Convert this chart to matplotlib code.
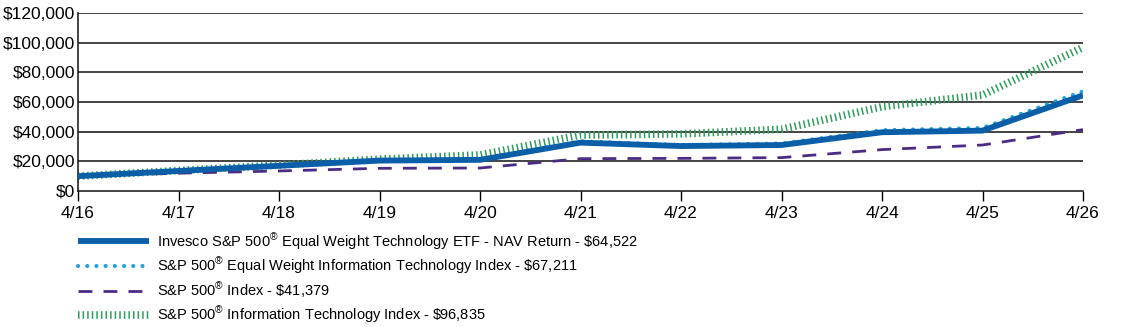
import matplotlib
matplotlib.use("Agg")
import matplotlib.pyplot as plt

# ---------------------------------------------------------------- data
periods = ["4/16", "4/17", "4/18", "4/19", "4/20", "4/21", "4/22", "4/23", "4/24", "4/25", "4/26"]
etf_nav = [10000, 13500, 17000, 20500, 21000, 32600, 30300, 31000, 39600, 40700, 64522]
ew_it_index = [10000, 13700, 17300, 21000, 21500, 33500, 31000, 32000, 41000, 42500, 67211]
sp500 = [10000, 12000, 13500, 15300, 15500, 21800, 22000, 22500, 27900, 31000, 41379]
it_index = [10000, 13800, 17500, 21500, 24300, 37700, 38500, 41600, 56800, 64700, 96835]

labels = [
    r"Invesco S&P 500$^{\circledR}$ Equal Weight Technology ETF - NAV Return - \$64,522",
    r"S&P 500$^{\circledR}$ Equal Weight Information Technology Index - \$67,211",
    r"S&P 500$^{\circledR}$ Index - \$41,379",
    r"S&P 500$^{\circledR}$ Information Technology Index - \$96,835",
]
y_ticks = [0, 20000, 40000, 60000, 80000, 100000, 120000]

# ---------------------------------------------------------------- chart
plt.rcParams["font.family"] = ["Liberation Sans", "DejaVu Sans"]
plt.rcParams["mathtext.fontset"] = "custom"
plt.rcParams["mathtext.rm"] = "Liberation Sans"
plt.rcParams["mathtext.it"] = "Liberation Sans"

fig = plt.figure(figsize=(11.23, 3.27), dpi=100)
ax = fig.add_axes([78 / 1123, 136 / 327, 1005 / 1123, 178 / 327])
x = list(range(len(periods)))

for v in y_ticks[1:]:
    ax.axhline(v, color="#111111", lw=1.1, zorder=1)

l_it, = ax.plot(x, it_index, color="#2E9E5B", lw=5.5, ls=(0, (0.2, 0.4)),
                dash_capstyle="butt", zorder=2)
l_sp, = ax.plot(x, sp500, color="#4B2C84", lw=2, ls=(0, (5, 4)), zorder=3)
l_etf, = ax.plot(x, etf_nav, color="#0B5EA8", lw=4.2, solid_capstyle="butt", zorder=4)
l_ew, = ax.plot(x, ew_it_index, color="#1FA3DC", lw=3, ls=(0, (0.01, 2.2)),
                dash_capstyle="round", zorder=3.5)

ax.set_xlim(0, len(periods) - 1)
ax.set_ylim(0, 120000)
ax.set_xticks(x)
ax.set_xticklabels(periods)
ax.set_yticks(y_ticks)
ax.set_yticklabels([f"${v:,.0f}" for v in y_ticks])
ax.tick_params(axis="x", length=7, width=1, direction="out", labelsize=12.5, pad=4)
ax.tick_params(axis="y", length=0, labelsize=12.5, pad=2)
for s in ("top", "right"):
    ax.spines[s].set_visible(False)
for s in ("left", "bottom"):
    ax.spines[s].set_color("#111111")
    ax.spines[s].set_linewidth(1.1)

leg = fig.legend([l_etf, l_ew, l_sp, l_it], labels, loc="upper left",
                 bbox_to_anchor=(78 / 1123, 1 - 231 / 327), frameon=False,
                 fontsize=10.5, handlelength=4.9, handletextpad=0.55, labelspacing=0.28,
                 borderaxespad=0, borderpad=0)

fig.savefig("out.png", dpi=100)
